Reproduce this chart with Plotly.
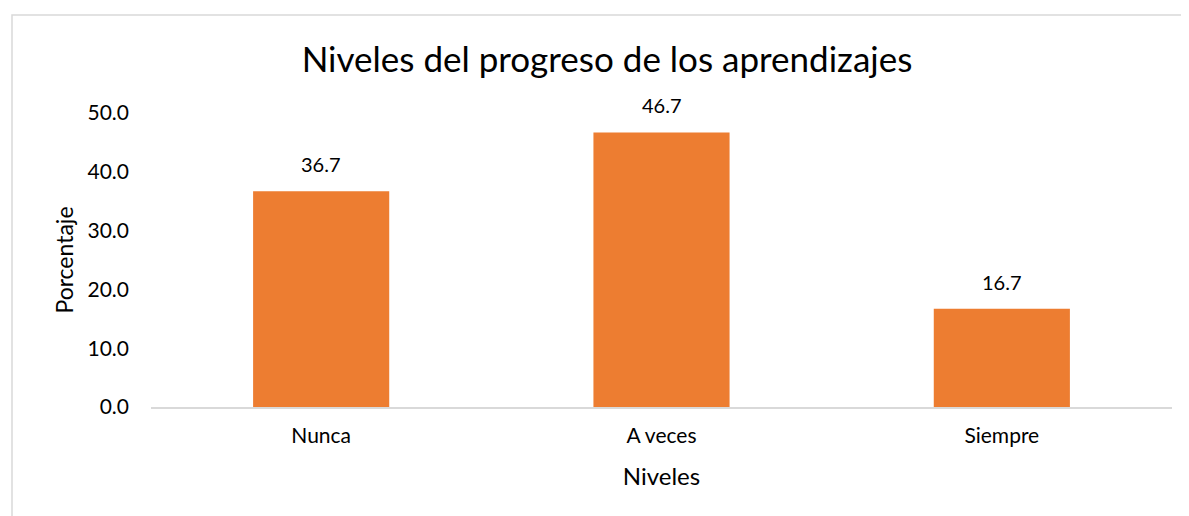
import plotly.graph_objects as go

categories = ["Nunca", "A veces", "Siempre"]
values = [36.7, 46.7, 16.7]
tick_vals = [0, 10, 20, 30, 40, 50]
tick_text = ["0.0", "10.0", "20.0", "30.0", "40.0", "50.0"]

FONT = "Lato, Carlito, Calibri, sans-serif"
ORANGE = "#ED7D31"

fig = go.Figure(go.Bar(x=categories, y=values, marker=dict(color=ORANGE, line=dict(width=0)), width=0.4))

for c, v in zip(categories, values):
    fig.add_annotation(x=c, y=v, text=f"{v:.1f}", showarrow=False, yanchor="bottom", yshift=13,
                       font=dict(family=FONT, size=20, color="#000000"))

# page body has an 8px margin, so the figure is sized/offset to compensate
W, H = 1181, 508
ml, mr, mt, mb = 143, 17, 105, 109
pw, ph = W - ml - mr, H - mt - mb
# chart-area border (light gray)
x0 = (4 - ml) / pw
y1 = 1 + (mt - 7) / ph
fig.add_shape(type="rect", xref="paper", yref="paper", x0=x0, x1=1 + (mr + 30) / pw,
              y0=-(mb + 30) / ph, y1=y1, line=dict(color="#D9D9D9", width=1.5), layer="below")

fig.update_layout(
    width=W, height=H,
    margin=dict(l=ml, r=mr, t=mt, b=mb),
    paper_bgcolor="white", plot_bgcolor="white",
    showlegend=False,
    font=dict(family=FONT, color="#000000"),
    title=dict(text="Niveles del progreso de los aprendizajes", x=(607 - 8) / W, xanchor="center",
               y=1 - (60 - 8) / H, yanchor="middle", font=dict(family=FONT, size=35, color="#000000")),
    xaxis=dict(showline=True, linecolor="#D9D9D9", linewidth=1.5, ticks="", showgrid=False,
               tickfont=dict(family=FONT, size=21), ticklabelstandoff=9,
               title=dict(text="Niveles", font=dict(family=FONT, size=24), standoff=22)),
    yaxis=dict(range=[0, 50], tickvals=tick_vals, ticktext=tick_text, showgrid=False, zeroline=False,
               showline=False, ticks="", tickfont=dict(family=FONT, size=21), ticklabelstandoff=21,
               title=dict(text="Porcentaje", font=dict(family=FONT, size=23), standoff=7)),
)

fig.write_html("out.html")
